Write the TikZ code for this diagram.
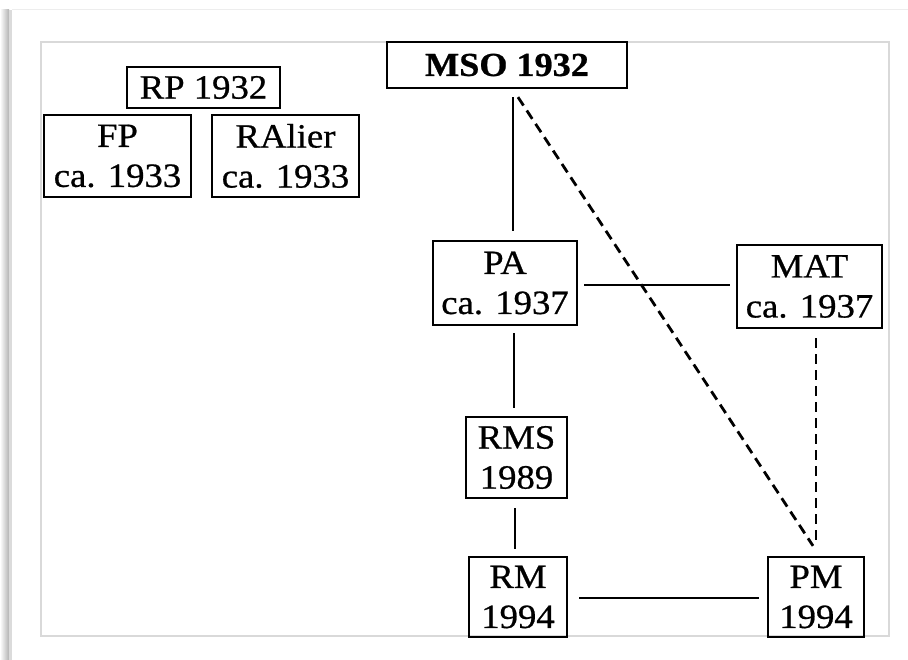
\documentclass[tikz,border=0pt]{standalone}
\usepackage{fontspec}
\setmainfont[FakeStretch=1.08, FakeBold=0.7]{Liberation Serif}
\begin{document}
\begin{tikzpicture}[x=1pt,y=-1pt,
  box/.style={draw=black, line width=2.3pt, align=center, inner sep=0pt,
    font=\fontsize{34}{40}\selectfont},
  link/.style={line width=2.8pt},
  dlink/.style={line width=2.8pt, dash pattern=on 10pt off 6pt}]
\useasboundingbox (0,0) rectangle (908,660);
% page shadow and frame
\shade[left color=white, right color=black!30] (0,10) rectangle (9,660);
\fill[black!14] (9,10) rectangle (12,660);
\draw[black!7, line width=1pt] (12,10) -- (908,10);
\draw[black!15, line width=1.5pt] (41,42) rectangle (889,636);
% nodes
\node[box, minimum width=153pt, minimum height=41pt] (rp) at (203.5,87.5) {RP 1932};
\node[box, minimum width=147pt, minimum height=82pt] (fp) at (117.5,156) {FP\\ca. 1933};
\node[box, minimum width=147pt, minimum height=82pt] (ra) at (285.5,156) {RAlier\\ca. 1933};
\node[box, minimum width=240pt, minimum height=46pt, font=\fontsize{33.5}{39}\selectfont\bfseries] (mso) at (507,65) {MSO 1932};
\node[box, minimum width=144pt, minimum height=84pt] (pa) at (505,283) {PA\\ca. 1937};
\node[box, minimum width=145pt, minimum height=83pt] (mat) at (809.5,286.5) {MAT\\ca. 1937};
\node[box, minimum width=101pt, minimum height=81pt] (rms) at (516.5,457.5) {RMS\\1989};
\node[box, minimum width=98pt, minimum height=80pt] (rm) at (518,597) {RM\\1994};
\node[box, minimum width=96pt, minimum height=80pt] (pm) at (816,597) {PM\\1994};
% connectors
\draw[link] ([shift={(6pt,-8pt)}]mso.south) -- ([shift={(8pt,9pt)}]pa.north);
\draw[dlink] ([shift={(11pt,-8pt)}]mso.south) -- ([shift={(-3pt,10pt)}]pm.north);
\draw[link] ([shift={(6pt,-2pt)}]pa.east) -- ([shift={(-6pt,1.5pt)}]mat.west);
\draw[dlink] ([shift={(6.5pt,-9pt)}]mat.south) -- ([shift={(0pt,10pt)}]pm.north);
\draw[link] ([shift={(9pt,-7pt)}]pa.south) -- ([shift={(-2.5pt,8pt)}]rms.north);
\draw[link] ([shift={(-1.5pt,-9pt)}]rms.south) -- ([shift={(-3pt,7pt)}]rm.north);
\draw[link] ([shift={(11pt,-1pt)}]rm.east) -- ([shift={(-8pt,-1pt)}]pm.west);
\end{tikzpicture}
\end{document}
